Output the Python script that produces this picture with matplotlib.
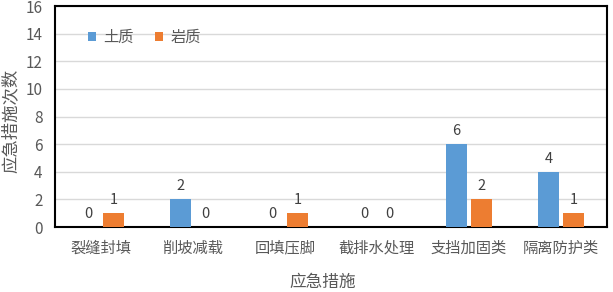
import matplotlib
matplotlib.use("Agg")
import matplotlib.pyplot as plt
import numpy as np

plt.rcParams['font.family'] = ['Noto Sans CJK SC', 'DejaVu Sans']

categories = ['裂缝封填', '削坡减载', '回填压脚', '截排水处理', '支挡加固类', '隔离防护类']
soil = [0, 2, 0, 0, 6, 4]
rock = [1, 0, 1, 0, 2, 1]
series_names = ['土质', '岩质']
yticks = [0, 2, 4, 6, 8, 10, 12, 14, 16]

fig = plt.figure(figsize=(6.13, 2.92), dpi=100)
ax = fig.add_axes([0.0897, 0.2226, 0.9005, 0.7568])

x = np.arange(len(categories))
w = 0.22
off = 0.135
b1 = ax.bar(x - off, soil, w, color='#5B9BD5', label=series_names[0], zorder=3)
b2 = ax.bar(x + off, rock, w, color='#ED7D31', label=series_names[1], zorder=3)

tc = '#595959'
for bars, vals in ((b1, soil), (b2, rock)):
    for rect, v in zip(bars, vals):
        ax.text(rect.get_x() + rect.get_width() / 2, v + 0.45, str(v),
                ha='center', va='bottom', fontsize=10.5, color='#404040')

ax.set_xlim(-0.5, len(categories) - 0.5)
ax.set_ylim(0, 16)
ax.set_yticks(yticks)
ax.set_xticks(x)
ax.set_xticklabels(categories)
ax.tick_params(axis='both', length=0, labelsize=11, colors=tc)
ax.tick_params(axis='y', pad=9)
ax.tick_params(axis='x', pad=9)
ax.grid(axis='y', color='#D9D9D9', linewidth=1, zorder=0)
for s in ax.spines.values():
    s.set_color('black')
    s.set_linewidth(1.5)

ax.set_ylabel('应急措施次数', fontsize=12.5, color=tc)
ax.yaxis.set_label_coords(-0.08, 0.48)
ax.set_xlabel('应急措施', fontsize=12, color=tc)
ax.xaxis.set_label_coords(0.485, -0.25)
ax.xaxis.label.set_va('center')
ax.yaxis.label.set_va('center')

leg = ax.legend(loc='upper left', bbox_to_anchor=(0.035, 0.96), ncol=2, frameon=False,
                fontsize=11, handlelength=0.5, handleheight=0.5, handletextpad=0.5,
                columnspacing=1.4, labelcolor=tc)

fig.savefig('out.png', dpi=100)
